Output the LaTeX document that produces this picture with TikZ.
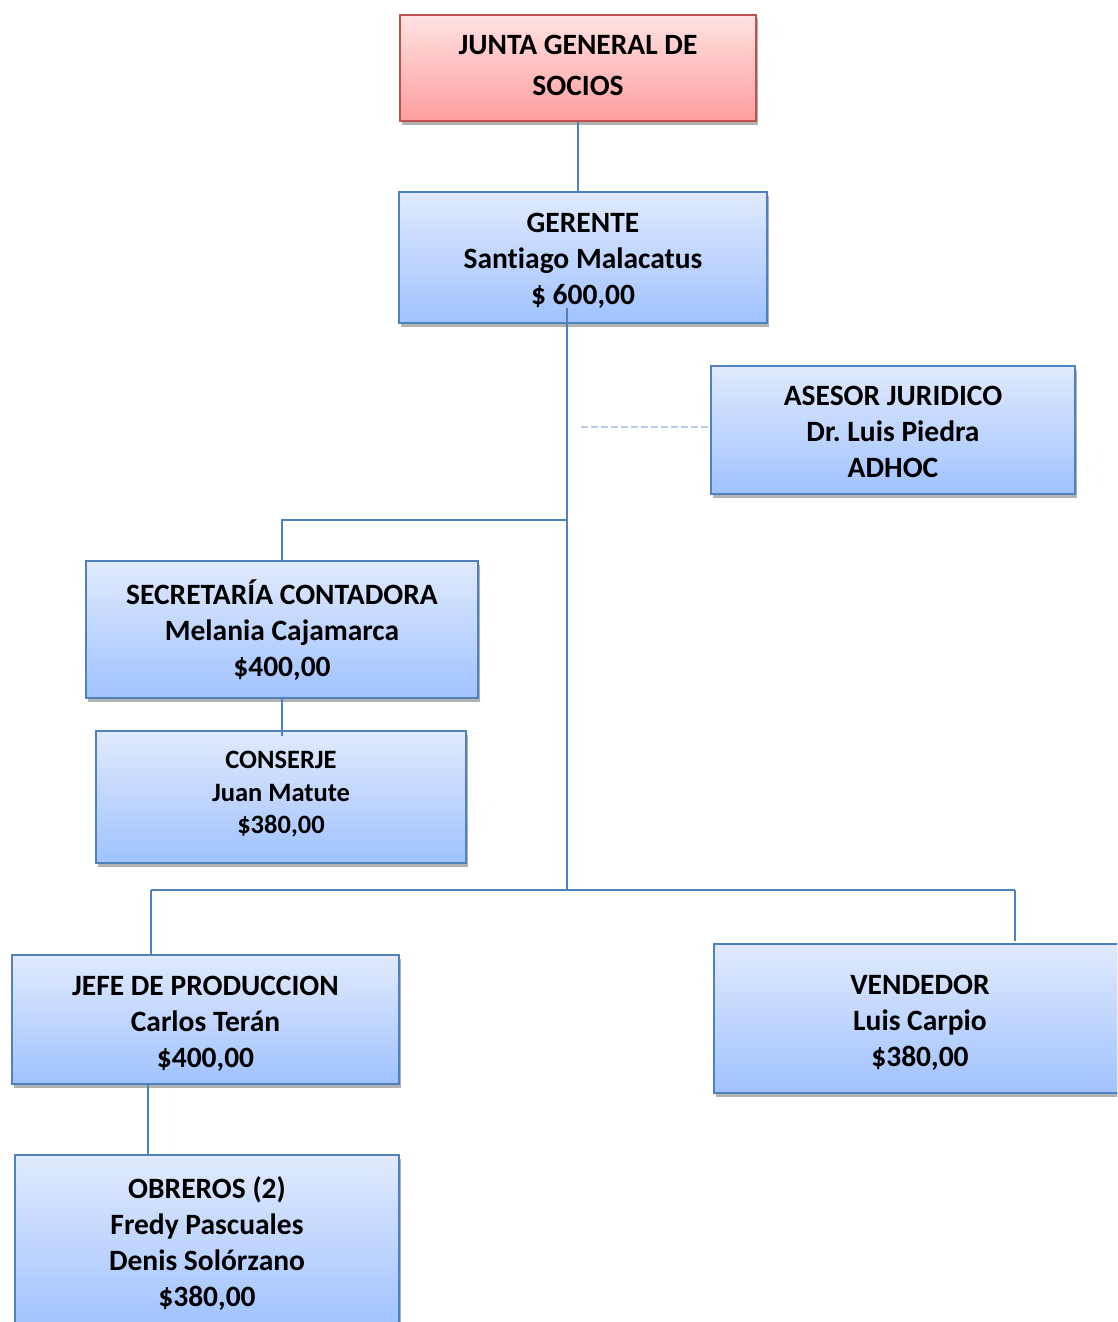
\documentclass[tikz,border=0pt]{standalone}
\usepackage{fontspec}
\setmainfont{Carlito}[Ligatures={NoCommon}]
\frenchspacing
\usetikzlibrary{shadows,calc}
\definecolor{lineblue}{RGB}{79,129,189}
\definecolor{dashblue}{RGB}{185,205,229}
\definecolor{boxtop}{RGB}{224,234,252}
\definecolor{boxbot}{RGB}{160,194,255}
\definecolor{redtop}{RGB}{255,226,226}
\definecolor{redbot}{RGB}{255,158,158}
\definecolor{redline}{RGB}{192,80,77}
% centred lines of a box; the optional argument lowers them inside the box
\newcommand\boxlines[2][0pt]{%
  \raisebox{-#1}[\height][\depth]{\begin{tabular}{@{}c@{}}#2\end{tabular}}}
\tikzset{
  orgbox/.style={draw=lineblue, line width=2pt, top color=boxtop, bottom color=boxbot,
    align=center, inner sep=0pt, font=\bfseries\fontsize{29.5}{36}\selectfont,
    drop shadow={shadow xshift=2pt, shadow yshift=-3.5pt, opacity=0.3, fill=black}},
  headbox/.style={orgbox, draw=redline, top color=redtop, bottom color=redbot,
    font=\bfseries\fontsize{29.5}{41}\selectfont},
  smallbox/.style={orgbox, font=\bfseries\fontsize{26.5}{32.5}\selectfont},
  link/.style={draw=lineblue, line width=2pt},
  dashlink/.style={draw=dashblue, line width=2pt, dash pattern=on 7pt off 3pt}
}
\begin{document}
\begin{tikzpicture}[x=1pt, y=-1pt]
  \useasboundingbox (0,0) rectangle (1117,1322);
  \clip (0,0) rectangle (1117,1322);
  % boxes
  \node[headbox, minimum width=356, minimum height=106] (junta) at (578,68)
    {\boxlines[-1pt]{JUNTA GENERAL DE\\SOCIOS}};
  \node[orgbox, minimum width=368, minimum height=131] (ger) at (583,257.5)
    {\boxlines[4pt]{GERENTE\\Santiago Malacatus\\\$ 600,00}};
  \node[orgbox, minimum width=364, minimum height=128] (ase) at (893,430)
    {\boxlines[4.5pt]{ASESOR JURIDICO\\Dr. Luis Piedra\\ADHOC}};
  \node[orgbox, minimum width=392, minimum height=137] (sec) at (282,629.5)
    {\boxlines[4pt]{SECRETARÍA CONTADORA\\Melania Cajamarca\\\$400,00}};
  \node[smallbox, minimum width=370, minimum height=132] (con) at (281,797)
    {\boxlines[-2.5pt]{CONSERJE\\Juan Matute\\\$380,00}};
  \node[orgbox, minimum width=387, minimum height=129] (jefe) at (205.5,1019.5)
    {\boxlines[4.5pt]{JEFE DE PRODUCCION\\Carlos Terán\\\$400,00}};
  \node[orgbox, minimum width=412, minimum height=149] (ven) at (920,1018.5)
    {\boxlines[5pt]{VENDEDOR\\Luis Carpio\\\$380,00}};
  \node[orgbox, minimum width=384, minimum height=174] (obr) at (207,1242)
    {\boxlines[3pt]{OBREROS (2)\\Fredy Pascuales\\Denis Solórzano\\\$380,00}};
  % junction points of the tree
  \coordinate (g0) at (567,308);
  \coordinate (j1) at (567,520);
  \coordinate (j2) at (567,890);
  \coordinate (jl) at (151,890);
  \coordinate (jr) at (1015,890);
  \coordinate (d0) at (581,427);
  % connectors
  \draw[link] (junta.south) -- (junta.south |- ger.north);
  \draw[link] (g0) -- (j2);
  \draw[link] (sec.north) |- (j1);
  \draw[link] (sec.south) -- ($(con.north)+(1,6)$);
  \draw[link] (jl) -- (jr);
  \draw[link] (jl) -- (jl |- jefe.north);
  \draw[link] (jr) -- ($(jr |- ven.north)+(0,-2)$);
  \draw[link] ([xshift=-57.5pt]jefe.south) -- ([xshift=-59pt]obr.north);
  \draw[dashlink] (d0) -- (d0 -| ase.west);
\end{tikzpicture}
\end{document}
